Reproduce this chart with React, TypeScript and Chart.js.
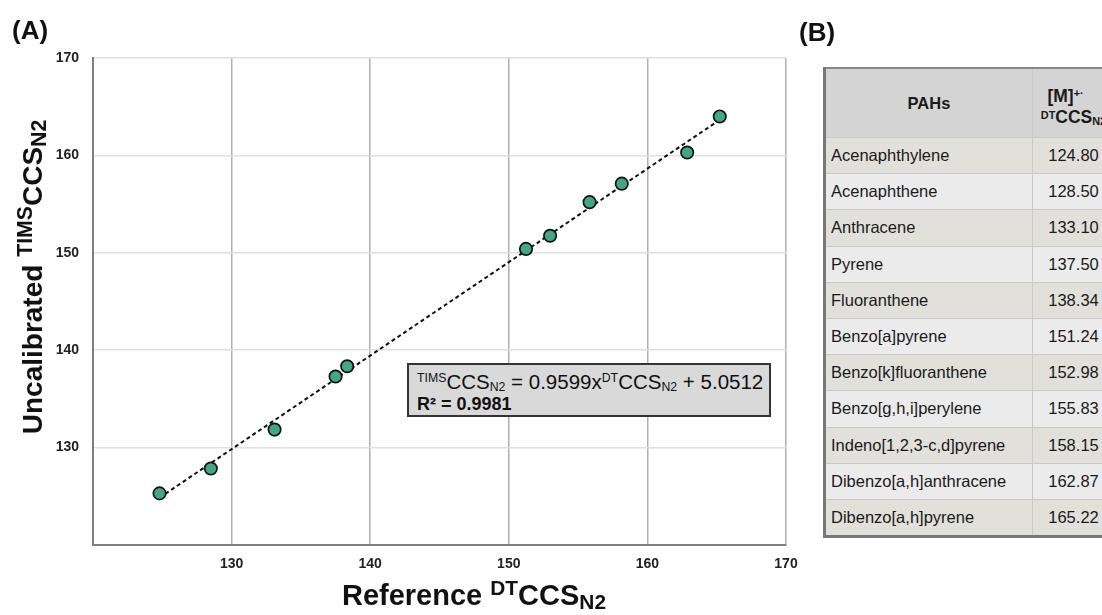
import React, { useEffect, useRef } from 'react';
import { Chart, registerables } from 'chart.js';

Chart.register(...registerables);

const pahNames = [
  'Acenaphthylene',
  'Acenaphthene',
  'Anthracene',
  'Pyrene',
  'Fluoranthene',
  'Benzo[a]pyrene',
  'Benzo[k]fluoranthene',
  'Benzo[g,h,i]perylene',
  'Indeno[1,2,3-c,d]pyrene',
  'Dibenzo[a,h]anthracene',
  'Dibenzo[a,h]pyrene',
];
const dtCCS = [124.8, 128.5, 133.1, 137.5, 138.34, 151.24, 152.98, 155.83, 158.15, 162.87, 165.22];
const timsCCS = [125.3, 127.85, 131.85, 137.3, 138.35, 150.4, 151.75, 155.2, 157.1, 160.3, 164.0];
const trendX = [124.8, 165.22];
const trendY = [124.85, 163.65];
const axisTicks = [130, 140, 150, 160, 170];
const axisMin = 120;
const axisMax = 170;

const FONT = "'Liberation Sans', Arial, Helvetica, sans-serif";

const sup = (t: string, size = '0.6em', top = '-0.75em') => (
  <span style={{ fontSize: size, position: 'relative', top, lineHeight: 0 }}>{t}</span>
);
const sub = (t: string, size = '0.6em', top = '0.25em') => (
  <span style={{ fontSize: size, position: 'relative', top, lineHeight: 0 }}>{t}</span>
);

export default function App() {
  const canvasRef = useRef<HTMLCanvasElement | null>(null);

  useEffect(() => {
    const canvas = canvasRef.current;
    if (!canvas) return;
    const tickCb = (v: any) => (axisTicks.includes(Number(v)) ? String(v) : '');
    const chart = new Chart(canvas, {
      type: 'scatter',
      data: {
        datasets: [
          {
            label: 'PAHs',
            data: dtCCS.map((x, i) => ({ x, y: timsCCS[i] })),
            pointRadius: 6.2,
            pointHoverRadius: 6.2,
            pointBorderWidth: 1.7,
            borderColor: '#111111',
            backgroundColor: '#42a784',
            order: 1,
          },
          {
            type: 'line',
            label: 'Fit',
            data: trendX.map((x, i) => ({ x, y: trendY[i] })),
            showLine: true,
            borderColor: '#111111',
            borderWidth: 2,
            borderDash: [4, 3],
            pointRadius: 0,
            fill: false,
            order: 2,
          } as any,
        ],
      },
      options: {
        responsive: false,
        animation: false,
        layout: { padding: { left: 0, top: 58, right: 44, bottom: 0 } },
        plugins: { legend: { display: false }, tooltip: { enabled: false } },
        scales: {
          x: {
            type: 'linear',
            min: axisMin,
            max: axisMax,
            afterFit: (s: any) => {
              s.height = 70;
            },
            ticks: {
              stepSize: 10,
              callback: tickCb,
              padding: 11,
              color: '#222222',
              font: { family: FONT, size: 14, weight: 'bold' },
              maxRotation: 0,
            },
            grid: { color: '#b0b0b0', lineWidth: 1.5, drawTicks: false },
            border: { color: '#808080', width: 2 },
          },
          y: {
            type: 'linear',
            min: axisMin,
            max: axisMax,
            afterFit: (s: any) => {
              s.width = 93;
            },
            ticks: {
              stepSize: 10,
              callback: tickCb,
              padding: 14,
              color: '#222222',
              font: { family: FONT, size: 14, weight: 'bold' },
            },
            grid: { color: '#e0e0e0', lineWidth: 1.5, drawTicks: false },
            border: { color: '#808080', width: 2 },
          },
        },
      } as any,
    });
    return () => chart.destroy();
  }, []);

  const cellBase: React.CSSProperties = {
    borderRight: '1.5px solid #c9c9c9',
    borderBottom: '1.5px solid #c9c9c9',
    height: 35.2,
    padding: 0,
    fontSize: 16.5,
    color: '#1a1a1a',
  };

  return (
    <div
      style={{
        position: 'absolute',
        left: 0,
        top: 0,
        width: 1102,
        height: 615,
        overflow: 'hidden',
        background: '#ffffff',
        fontFamily: FONT,
      }}
    >
      <canvas ref={canvasRef} width={830} height={615} style={{ position: 'absolute', left: 0, top: 0 }} />

      <div style={{ position: 'absolute', left: 12, top: 15, fontSize: 26, fontWeight: 'bold', lineHeight: '30px', color: '#111' }}>
        (A)
      </div>
      <div style={{ position: 'absolute', left: 799, top: 17, fontSize: 26, fontWeight: 'bold', lineHeight: '30px', color: '#111' }}>
        (B)
      </div>

      {/* Y axis title */}
      <div
        style={{
          position: 'absolute',
          left: 33,
          top: 277,
          transform: 'translate(-50%, -50%) rotate(-90deg)',
          whiteSpace: 'nowrap',
          fontSize: 28,
          fontWeight: 'bold',
          lineHeight: 1,
          color: '#111',
        }}
      >
        Uncalibrated {sup('TIMS', '0.76em', '-0.45em')}CCS{sub('N2', '0.76em', '0.18em')}
      </div>

      {/* X axis title */}
      <div
        style={{
          position: 'absolute',
          left: 474,
          top: 595,
          transform: 'translate(-50%, -50%)',
          whiteSpace: 'nowrap',
          fontSize: 29,
          fontWeight: 'bold',
          lineHeight: 1,
          color: '#111',
        }}
      >
        Reference {sup('DT', '0.72em', '-0.5em')}CCS{sub('N2', '0.72em', '0.18em')}
      </div>

      {/* Equation box */}
      <div
        style={{
          position: 'absolute',
          left: 407,
          top: 363,
          width: 360,
          height: 50,
          background: '#d9d9d9',
          border: '2px solid #333333',
          color: '#111',
        }}
      >
        <div style={{ position: 'absolute', left: 8, top: 6, fontSize: 20.5, lineHeight: '22px', whiteSpace: 'nowrap' }}>
          {sup('TIMS', '0.6em', '-0.6em')}CCS{sub('N2', '0.6em', '0.2em')} = 0.9599x{sup('DT', '0.6em', '-0.6em')}CCS
          {sub('N2', '0.6em', '0.2em')} + 5.0512
        </div>
        <div style={{ position: 'absolute', left: 8, top: 29, fontSize: 18, fontWeight: 'bold', lineHeight: '20px', whiteSpace: 'nowrap' }}>
          R² = 0.9981
        </div>
      </div>

      {/* Table */}
      <table
        style={{
          position: 'absolute',
          left: 823,
          top: 67,
          borderCollapse: 'collapse',
          tableLayout: 'fixed',
          width: 290,
          borderLeft: '3px solid #777777',
          borderTop: '2px solid #888888',
          borderBottom: '3px solid #777777',
          fontFamily: FONT,
        }}
      >
        <colgroup>
          <col style={{ width: 208 }} />
          <col style={{ width: 82 }} />
        </colgroup>
        <thead>
          <tr style={{ background: '#d4d4d4' }}>
            <th style={{ ...cellBase, height: 68, fontSize: 16.5, fontWeight: 'bold', textAlign: 'center' }}>PAHs</th>
            <th
              style={{
                ...cellBase,
                height: 68,
                fontSize: 17.5,
                fontWeight: 'bold',
                textAlign: 'center',
                lineHeight: '21px',
                paddingTop: 8,
                boxSizing: 'border-box',
              }}
            >
              <div style={{ whiteSpace: 'nowrap', paddingRight: 16 }}>[M]{sup('+·', '0.62em', '-0.5em')}</div>
              <div style={{ whiteSpace: 'nowrap' }}>
                {sup('DT', '0.62em', '-0.4em')}CCS{sub('N2', '0.62em', '0.2em')}
              </div>
            </th>
          </tr>
        </thead>
        <tbody>
          {pahNames.map((name, i) => (
            <tr key={name} style={{ background: i % 2 === 0 ? '#e1e0db' : '#ebebeb' }}>
              <td style={{ ...cellBase, paddingLeft: 5, textAlign: 'left', whiteSpace: 'nowrap' }}>{name}</td>
              <td style={{ ...cellBase, textAlign: 'center' }}>{dtCCS[i].toFixed(2)}</td>
            </tr>
          ))}
        </tbody>
      </table>
    </div>
  );
}
